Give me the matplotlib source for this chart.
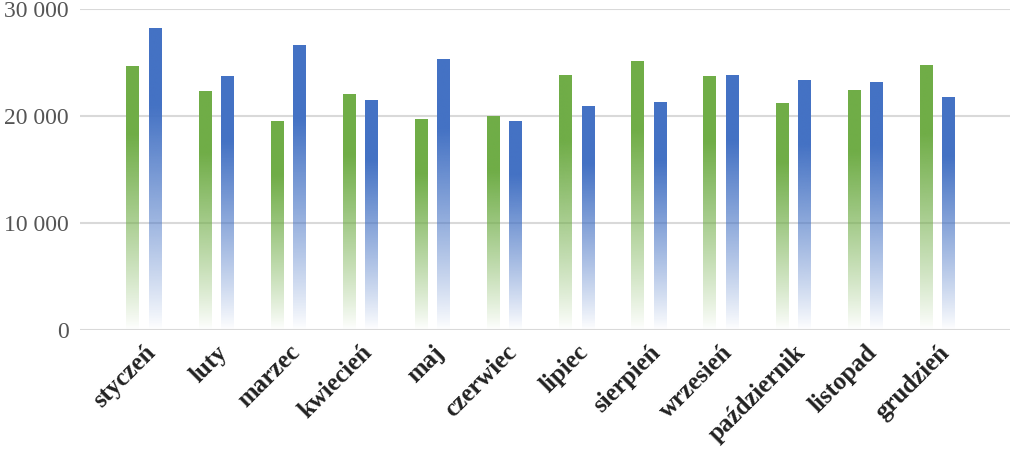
import matplotlib
matplotlib.use("Agg")
import matplotlib.pyplot as plt
import numpy as np
from matplotlib.colors import to_rgb

months = ["styczeń","luty","marzec","kwiecień","maj","czerwiec","lipiec","sierpień","wrzesień","październik","listopad","grudzień"]
green_vals = [24700,22300,19500,22100,19700,20000,23800,25100,23700,21200,22400,24800]
blue_vals = [28200,23700,26600,21500,25300,19500,20900,21300,23800,23400,23200,21800]
yticks = [0,10000,20000,30000]
ytick_labels = ["0","10 000","20 000","30 000"]

plt.rcParams["font.family"] = "Liberation Serif"
fig = plt.figure(figsize=(10.24,4.69), dpi=100)
ax = fig.add_axes([0.078,0.297,0.908,0.683])
w = 0.18
off = 0.155

def grad_bar(x, h, color):
    c = np.array(to_rgb(color))
    n = 256
    t = np.linspace(0,1,n)
    alpha = np.clip((t*30000/h)*1.4*(h/30000)**0, 0, 1)
    alpha = np.clip(t*1.35, 0, 1)**0.9
    img = np.zeros((n,1,4))
    img[:,0,:3] = c
    img[:,0,3] = alpha
    ax.imshow(img, extent=[x-w/2, x+w/2, 0, h], origin="lower", aspect="auto", zorder=3, interpolation="bilinear")

for i,(g,b) in enumerate(zip(green_vals, blue_vals)):
    grad_bar(i-off, g, "#70ad47")
    grad_bar(i+off, b, "#4472c4")

ax.set_xlim(-0.89, 12.0)
ax.set_ylim(0,30000)
ax.set_yticks(yticks)
ax.set_yticklabels(ytick_labels, fontsize=17, color="#555555")
ax.set_xticks(range(len(months)))
ax.set_xticklabels(months, rotation=45, ha="right", rotation_mode="anchor", fontsize=18, fontweight="bold", color="#222222")
ax.tick_params(length=0, pad=8)
ax.grid(axis="y", color="#d9d9d9", linewidth=1.5, zorder=0)
ax.set_axisbelow(True)
for s in ax.spines.values():
    s.set_visible(False)
fig.savefig("out.png", dpi=100)
